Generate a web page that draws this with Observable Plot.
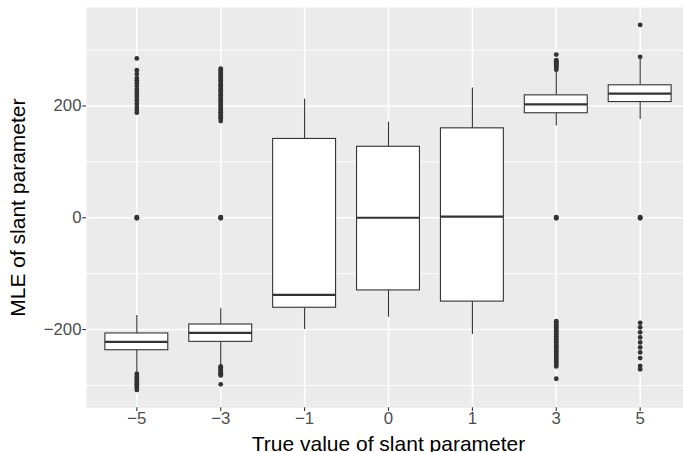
<!DOCTYPE html>
<html>
<head>
<meta charset="utf-8">
<script src="https://cdn.jsdelivr.net/npm/d3@7"></script>
<script src="https://cdn.jsdelivr.net/npm/@observablehq/plot@0.6"></script>
<style>
  html, body { margin: 0; padding: 0; background: white; overflow: hidden; }
  #chart { width: 683px; height: 452px; }
</style>
</head>
<body>
<div id="chart"></div>
<script>
const categories = [-5, -3, -1, 0, 1, 3, 5];
const whiskerLow  = [-276, -264, -200, -178, -209, 164, 176];
const quart1      = [-237, -222, -161, -130, -150, 187, 207];
const medians     = [-222, -206, -138, 0, 2, 203, 222];
const quart3      = [-207, -191, 141, 127, 160, 219, 237];
const whiskerHigh = [-175, -163, 212, 171, 232, 262, 283];

const outliersM5 = [285, 264, 257, 250, 246, 241, 236, 230, 225, 220, 216, 210, 204, 198, 193, 188, 1, 0, -1,
  -279, -283, -286, -289, -292, -295, -298, -301, -304, -308];
const outliersM3 = [267, 264, 261, 258, 255, 252, 249, 246, 243, 240, 237, 234, 231, 228, 225, 222, 219,
  216, 213, 210, 207, 204, 201, 198, 195, 192, 189, 186, 183, 180, 177, 173, 1, 0, -1,
  -266, -268, -270, -272, -274, -276, -278, -280, -282, -298];
const outliersM1 = [];
const outliers0  = [];
const outliersP1 = [];
const outliersP3 = [292, 282, 280, 278, 276, 274, 272, 270, 268, 265, 1, 0, -1,
  -185, -188, -191, -194, -197, -200, -203, -206, -209, -212, -215, -218, -221, -224, -227, -230,
  -233, -236, -239, -242, -245, -248, -251, -254, -257, -260, -263, -266, -288];
const outliersP5 = [345, 288, 1, 0, -1, -188, -196, -205, -214, -223, -232, -241, -251, -265, -271];

const yMajorTicks = [-200, 0, 200];
const yMinorTicks = [-300, -100, 100, 300];
const xTitle = "True value of slant parameter";
const yTitle = "MLE of slant parameter";

const boxes = categories.map((c, i) => ({
  cat: c, lo: whiskerLow[i], q1: quart1[i], med: medians[i], q3: quart3[i], hi: whiskerHigh[i]
}));
const outlierLists = [outliersM5, outliersM3, outliersM1, outliers0, outliersP1, outliersP3, outliersP5];
const outliers = categories.flatMap((c, i) => outlierLists[i].map(v => ({cat: c, v})));

const fmt = d => d < 0 ? "\u2212" + (-d) : String(d);
const font = "'Liberation Sans', Arial, Helvetica, sans-serif";
const dark = "#333333";

const chart = Plot.plot({
  width: 683,
  height: 452,
  marginLeft: 86,
  marginRight: 0,
  marginTop: 7,
  marginBottom: 44.7,
  style: {fontFamily: font, background: "white", overflow: "hidden"},
  x: {type: "band", domain: categories, range: [86, 690], paddingInner: 0.25, paddingOuter: 0.225, round: false, axis: null},
  y: {domain: [-340, 376.2], range: [407.3, 7], axis: null},
  marks: [
    Plot.frame({fill: "#EBEBEB", stroke: "none"}),
    Plot.ruleY(yMinorTicks, {stroke: "white", strokeWidth: 0.9}),
    Plot.ruleY(yMajorTicks, {stroke: "white", strokeWidth: 1.6}),
    Plot.ruleX(categories, {x: d => d, stroke: "white", strokeWidth: 1.6}),
    Plot.dot(outliers, {x: "cat", y: "v", r: 2.4, fill: dark, stroke: "none"}),
    Plot.ruleX(boxes, {x: "cat", y1: "q3", y2: "hi", stroke: dark, strokeWidth: 1.1}),
    Plot.ruleX(boxes, {x: "cat", y1: "lo", y2: "q1", stroke: dark, strokeWidth: 1.1}),
    Plot.barY(boxes, {x: "cat", y1: "q1", y2: "q3", fill: "white", stroke: dark, strokeWidth: 1.1}),
    Plot.tickY(boxes, {x: "cat", y: "med", stroke: dark, strokeWidth: 2.2}),
    Plot.axisY(yMajorTicks, {tickSize: 3.7, text: null, stroke: dark, strokeWidth: 1.1, label: null}),
    Plot.axisY(yMajorTicks, {tickSize: 0, tickPadding: 5, fontSize: 16.8, fill: "#4D4D4D", tickFormat: fmt, label: null}),
    Plot.axisX({tickSize: 3.7, text: null, stroke: dark, strokeWidth: 1.1, label: null}),
    Plot.axisX({tickSize: 0, tickPadding: 4.5, fontSize: 16.8, fill: "#4D4D4D", tickFormat: fmt, label: null}),
    Plot.text([yTitle], {text: d => d, frameAnchor: "left", textAnchor: "middle", lineAnchor: "middle", dx: -68, rotate: -90, fontSize: 21, fill: "black"}),
    Plot.text([xTitle], {text: d => d, frameAnchor: "bottom", textAnchor: "middle", dx: 3.5, dy: 28.4, lineAnchor: "top", fontSize: 21, fill: "black"})
  ]
});
document.getElementById("chart").appendChild(chart);
</script>
</body>
</html>
